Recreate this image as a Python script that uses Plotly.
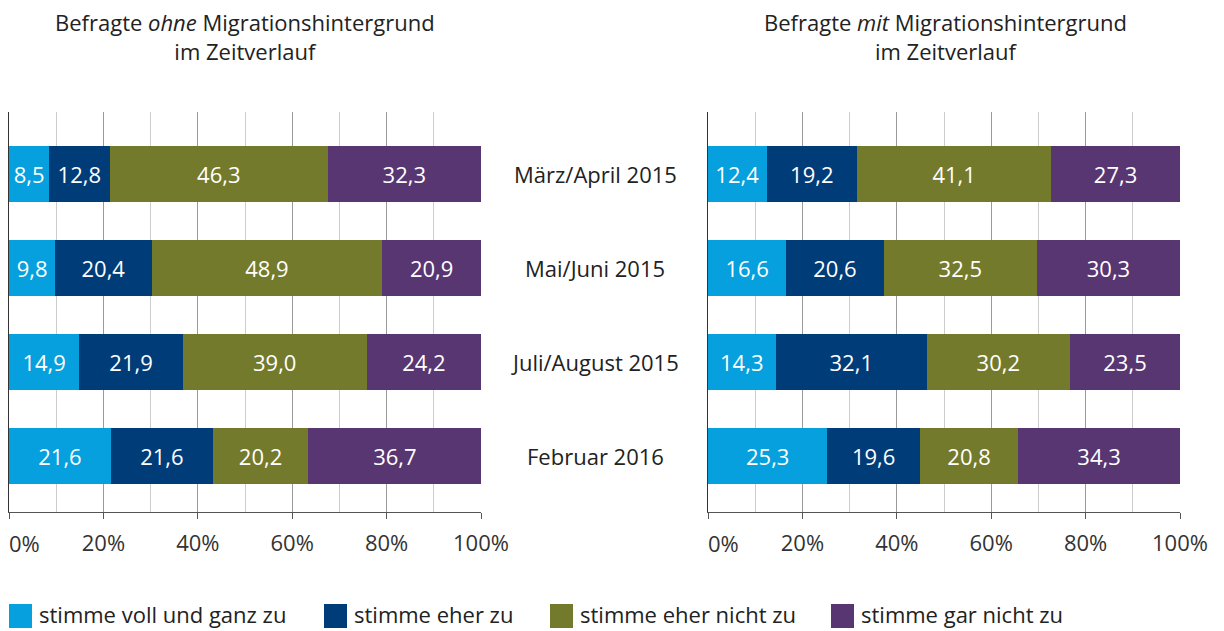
import plotly.graph_objects as go

categories = ["März/April 2015", "Mai/Juni 2015", "Juli/August 2015", "Februar 2016"]
series_names = ["stimme voll und ganz zu", "stimme eher zu", "stimme eher nicht zu", "stimme gar nicht zu"]
colors = ["#05a0dd", "#003c78", "#747a2b", "#583672"]

ohne_voll = [8.5, 9.8, 14.9, 21.6]
ohne_eher = [12.8, 20.4, 21.9, 21.6]
ohne_eher_nicht = [46.3, 48.9, 39.0, 20.2]
ohne_gar_nicht = [32.3, 20.9, 24.2, 36.7]

mit_voll = [12.4, 16.6, 14.3, 25.3]
mit_eher = [19.2, 20.6, 32.1, 19.6]
mit_eher_nicht = [41.1, 32.5, 30.2, 20.8]
mit_gar_nicht = [27.3, 30.3, 23.5, 34.3]

tick_vals = [0, 20, 40, 60, 80, 100]
tick_text = ["0%", "20%", "40%", "60%", "80%", "100%"]

titles = ["Befragte <i>ohne</i> Migrationshintergrund<br>im Zeitverlauf",
          "Befragte <i>mit</i> Migrationshintergrund<br>im Zeitverlauf"]

FONT = "Open Sans"
FS = 22
W, H = 1224, 631
ypos = list(range(len(categories)))
legend_x_px = [9, 324, 550, 831]

fig = go.Figure()
panels = [
    ("x", "y", [ohne_voll, ohne_eher, ohne_eher_nicht, ohne_gar_nicht]),
    ("x2", "y2", [mit_voll, mit_eher, mit_eher_nicht, mit_gar_nicht]),
]
for xa, ya, data in panels:
    for name, vals, col in zip(series_names, data, colors):
        fig.add_trace(go.Bar(
            x=vals, y=ypos, orientation="h", name=name, marker=dict(color=col, line=dict(width=0)),
            xaxis=xa, yaxis=ya, width=0.6, showlegend=False,
            text=vals, texttemplate="%{x:.1f}", textposition="inside", insidetextanchor="middle",
            textangle=0, constraintext="none",
            insidetextfont=dict(color="white", size=FS, family=FONT), hoverinfo="skip",
        ))

def px_x(p):
    return p / W

def px_y(p):
    return (H - p) / H

# first tick label ("0%") is drawn left-aligned at its tick, the others centred
axis_tick_text = [""] + tick_text[1:]

yrange = [3.596, -0.66]
xcommon = dict(range=[0, 100], tickvals=tick_vals, ticktext=axis_tick_text, showgrid=True,
               gridcolor="#9a9a9a", gridwidth=1, showline=True, linecolor="#555555", linewidth=1,
               ticks="outside", ticklen=6, tickcolor="#555555", ticklabelstandoff=6,
               ticklabeloverflow="allow",
               tickfont=dict(size=FS, color="#333333", family=FONT), zeroline=False,
               minor=dict(dtick=10, showgrid=True, gridcolor="#cccccc", gridwidth=1, ticks=""),
               fixedrange=True, automargin=False)
ycommon = dict(range=yrange, showgrid=False, showticklabels=False, showline=True,
               linecolor="#333333", linewidth=1, zeroline=False, fixedrange=True, automargin=False)

fig.update_layout(
    barmode="stack",
    width=W, height=H,
    margin=dict(l=0, r=0, t=0, b=0, autoexpand=False),
    paper_bgcolor="white", plot_bgcolor="white",
    separators=",.",
    font=dict(family=FONT, size=FS, color="#222222"),
    xaxis=dict(domain=[px_x(9), px_x(481)], anchor="y", **xcommon),
    yaxis=dict(domain=[px_y(512), px_y(112)], anchor="x", **ycommon),
    xaxis2=dict(domain=[px_x(708), px_x(1180)], anchor="y2", **xcommon),
    yaxis2=dict(domain=[px_y(512), px_y(112)], anchor="x2", **ycommon),
    showlegend=False,
)

for xr in ["x", "x2"]:
    fig.add_annotation(text=tick_text[0], x=tick_vals[0], xref=xr, y=px_y(543), yref="paper",
                       showarrow=False, xanchor="left", yanchor="middle", xshift=-2,
                       font=dict(size=FS, color="#333333", family=FONT))

# legend (key) built from the series names and colours
for name, col, lx in zip(series_names, colors, legend_x_px):
    fig.add_shape(type="rect", xref="paper", yref="paper",
                  x0=px_x(lx), x1=px_x(lx + 23), y0=px_y(628), y1=px_y(604),
                  fillcolor=col, line=dict(width=0))
    fig.add_annotation(text=name, x=px_x(lx + 28), y=px_y(614), xref="paper", yref="paper",
                       showarrow=False, xanchor="left", yanchor="middle",
                       font=dict(size=FS, color="#222222", family=FONT))

for cx, t in zip([245, 945], titles):
    fig.add_annotation(text=t, x=px_x(cx), y=px_y(36), xref="paper", yref="paper",
                       showarrow=False, xanchor="center", yanchor="middle",
                       font=dict(size=FS, color="#222222", family=FONT), align="center")

for i, c in enumerate(categories):
    fig.add_annotation(text=c, x=px_x(595), y=i, xref="paper", yref="y", showarrow=False,
                       xanchor="center", yanchor="middle",
                       font=dict(size=FS, color="#222222", family=FONT))

fig.write_html("out.html", post_script="document.body.style.margin='0';",
               config={"displayModeBar": False})
